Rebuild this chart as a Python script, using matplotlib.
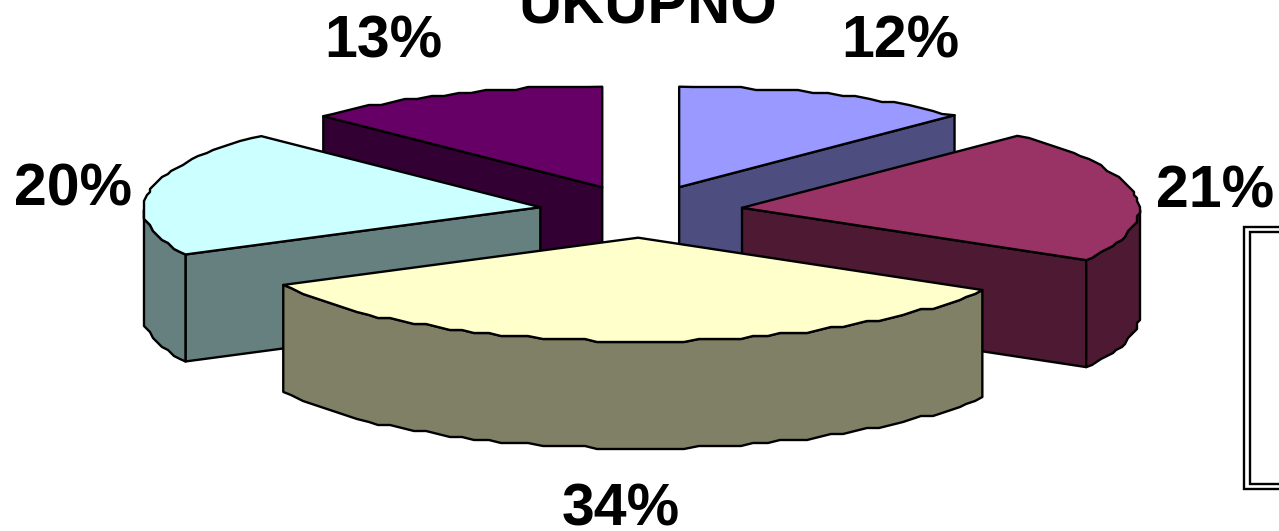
import numpy as np
import matplotlib
matplotlib.use("Agg")
import matplotlib.pyplot as plt
from matplotlib.patches import Polygon, Rectangle

plt.rcParams["font.family"] = ["Liberation Sans", "DejaVu Sans"]

# shares clockwise from 12 o'clock, printed labels are rounded
shares = [12.2, 21.1, 34.3, 20.0, 12.4]
labels = ["12%", "21%", "34%", "20%", "13%"]
top_colors = ["#9999FF", "#993366", "#FFFFCC", "#CCFFFF", "#660066"]
side_colors = ["#4D4D80", "#4D1933", "#808066", "#668080", "#330033"]
label_pos = [(900, 57), (1215, 207), (621, 525), (73, 205), (383, 57)]

# pie geometry in pixels
cx, cy = 641, 211.5
rx, ry = 397, 102
depth = 107
explode = 0.257
lw = 1.7

fig = plt.figure(figsize=(12.79, 5.31), dpi=100)
ax = fig.add_axes([0, 0, 1, 1])
ax.set_xlim(0, 1279)
ax.set_ylim(531, 0)
ax.axis("off")


def rim(ox, oy, a0, a1):
    # outer edge, snapped to a coarse grid like the old chart renderer
    n = max(int((a1 - a0) / 0.035), 2)
    t = np.linspace(a0, a1, n)
    x = ox + rx * np.sin(t)
    y = oy - ry * np.cos(t)
    x[1:-1] = np.round(x[1:-1] / 3) * 3
    y[1:-1] = np.ceil(y[1:-1] / 3) * 3
    y[0] += 1.5
    y[-1] += 1.5
    return t, np.column_stack([x, y])


edges = np.cumsum([0] + shares) / 100 * 2 * np.pi


def draw_slice(i):
    a0, a1 = edges[i], edges[i + 1]
    mid = (a0 + a1) / 2
    ox = cx + explode * rx * np.sin(mid)
    oy = cy - explode * ry * np.cos(mid)
    down = np.array([0, depth])
    apex = np.array([ox, oy])
    t, arc = rim(ox, oy, a0, a1)
    style = dict(edgecolor="black", linewidth=lw, joinstyle="round")

    # cut faces, only those turned toward the viewer
    if np.sin(a0) < -1e-6:
        p = arc[0]
        ax.add_patch(Polygon([apex, p, p + down, apex + down],
                             facecolor=side_colors[i], **style))
    if np.sin(a1) > 1e-6:
        p = arc[-1]
        ax.add_patch(Polygon([apex, p, p + down, apex + down],
                             facecolor=side_colors[i], **style))
    # outer wall, the part of the rim on the near side
    near = np.cos(t) <= 0
    if near.sum() > 1:
        wall = arc[near]
        ax.add_patch(Polygon(np.vstack([wall, (wall + down)[::-1]]),
                             facecolor=side_colors[i], **style))
    ax.add_patch(Polygon(np.vstack([apex, arc]),
                         facecolor=top_colors[i], **style))


# back slices first, the big front one last
for i in [4, 0, 3, 1, 2]:
    draw_slice(i)

for lab, (x, y) in zip(labels, label_pos):
    ax.text(x, y, lab, ha="center", va="baseline", fontsize=42.5,
            fontweight="bold", color="black")

ax.text(648, 24, "UKUPNO", ha="center", va="baseline", fontsize=43,
        fontweight="bold", color="black", clip_on=True)

# empty legend frame, double line, runs off the right edge
ax.add_patch(Rectangle((1244, 227), 60, 262, facecolor="white",
                       edgecolor="black", linewidth=1.7))
ax.add_patch(Rectangle((1249.5, 232), 60, 252, facecolor="white",
                       edgecolor="black", linewidth=1.7))

plt.savefig("out.png", dpi=100)
